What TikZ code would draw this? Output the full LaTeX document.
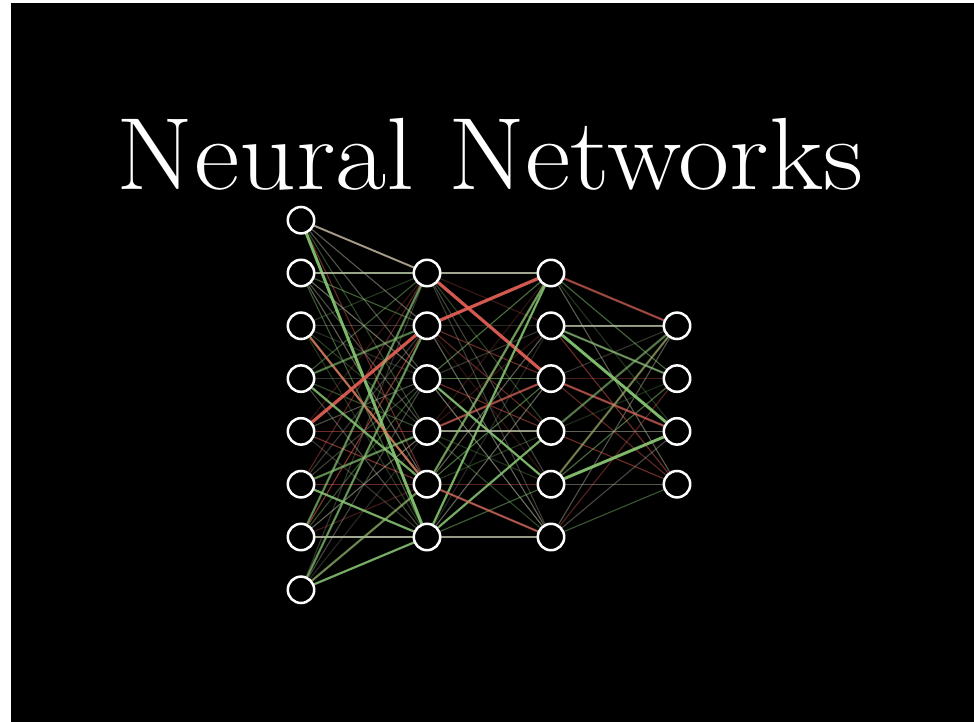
\documentclass[tikz,border=0pt]{standalone}
\usepackage{tikz}
\usetikzlibrary{calc}
\usetikzlibrary{backgrounds}
\definecolor{wgreen}{RGB}{135,200,115}
\definecolor{wred}{RGB}{230,95,85}
\definecolor{worange}{RGB}{220,125,95}
\definecolor{wgrey}{RGB}{185,190,165}
\tikzset{
  neuron/.style={circle, draw=white, fill=black, line width=1.8pt, minimum size=0.66cm, inner sep=0},
  faint/.style={line width=0.8pt},
  wpos/.style={draw=wgreen, line width=1.6pt, opacity=0.8},
  wpos strong/.style={draw=wgreen, line width=2.1pt, opacity=0.9},
  wneg/.style={draw=wred, line width=1.6pt, opacity=0.8},
  wneg strong/.style={draw=wred, line width=2.3pt, opacity=0.9},
  wzero/.style={draw=wgrey, line width=1.4pt, opacity=0.75}
}

\begin{document}
\begin{tikzpicture}[x=0.025cm, y=-0.025cm]
\useasboundingbox (0,0) rectangle (974,722);
\node[white, anchor=base, xscale=1.085, font=\fontsize{73}{80}\selectfont] (title) at (490,190) {Neural Networks};

% the four layers
\foreach \k in {1,...,8}
  \node[neuron] (in\k) at (301,{405+(\k-4.5)*52.8}) {};
\foreach \k in {1,...,6} {
  \node[neuron] (hA\k) at (427,{405+(\k-3.5)*52.8}) {};
  \node[neuron] (hB\k) at (551,{405+(\k-3.5)*52.8}) {};
}
\foreach \k in {1,...,4}
  \node[neuron] (out\k) at (677,{405+(\k-2.5)*52.8}) {};

\begin{scope}[on background layer]
\fill[white] (0,0) rectangle (974,722);
\fill[black] (11,3) rectangle (974,722);
% all the weights, faint
\pgfmathsetseed{11}
\pgfmathdeclarerandomlist{wcol}{{wgreen}{wred}{wgrey}{wgreen}{wgrey}}
\foreach \i in {1,...,8} \foreach \j in {1,...,6} {
  \pgfmathrandomitem{\wc}{wcol}
  \pgfmathsetmacro{\op}{0.2+0.4*rnd}
  \draw[faint, draw=\wc, opacity=\op] (in\i) -- (hA\j);
}
\foreach \i in {1,...,6} \foreach \j in {1,...,6} {
  \pgfmathrandomitem{\wc}{wcol}
  \pgfmathsetmacro{\op}{0.2+0.4*rnd}
  \draw[faint, draw=\wc, opacity=\op] (hA\i) -- (hB\j);
}
\foreach \i in {1,...,6} \foreach \j in {1,...,4} {
  \pgfmathrandomitem{\wc}{wcol}
  \pgfmathsetmacro{\op}{0.2+0.4*rnd}
  \draw[faint, draw=\wc, opacity=\op] (hB\i) -- (out\j);
}

% the big weights
\draw[wzero] (in1) -- (hA1);
\draw[wpos strong] (in1) -- (hA6);
\draw[wzero] (in2) -- (hA1);
\draw[wneg, draw=worange] (in3) -- (hA5);
\draw[wneg strong] (in5) -- (hA2);
\draw[wpos] (in4) -- (hA5);
\draw[wpos] (in6) -- (hA6);
\draw[wzero] (in7) -- (hA6);
\draw[wpos] (in8) -- (hA6);
\draw[wpos, opacity=0.6] (in8) -- (hA5);
\draw[wpos, opacity=0.6] (in8) -- (hA2);
\draw[wpos, opacity=0.6] (in7) -- (hA1);
\draw[wpos, opacity=0.6] (in6) -- (hA4);
\draw[wpos, opacity=0.5] (in4) -- (hA2);

\draw[wzero] (hA1) -- (hB1);
\draw[wneg strong] (hA1) -- (hB3);
\draw[wneg strong] (hA2) -- (hB1);
\draw[wpos] (hA3) -- (hB5);
\draw[wneg, opacity=0.6] (hA4) -- (hB3);
\draw[wzero] (hA4) -- (hB4);
\draw[wpos, opacity=0.7] (hA5) -- (hB1);
\draw[wpos] (hA6) -- (hB1);
\draw[wpos] (hA6) -- (hB4);
\draw[wneg, opacity=0.6] (hA5) -- (hB6);
\draw[wzero] (hA6) -- (hB6);

\draw[wneg, opacity=0.6] (hB1) -- (out1);
\draw[wzero] (hB2) -- (out1);
\draw[wpos strong] (hB2) -- (out3);
\draw[wpos, opacity=0.5] (hB2) -- (out2);
\draw[wneg, opacity=0.6] (hB3) -- (out3);
\draw[wpos strong] (hB5) -- (out3);
\draw[wpos, opacity=0.5] (hB4) -- (out1);
\draw[wpos, opacity=0.5] (hB5) -- (out1);
\end{scope}
\end{tikzpicture}
\end{document}
